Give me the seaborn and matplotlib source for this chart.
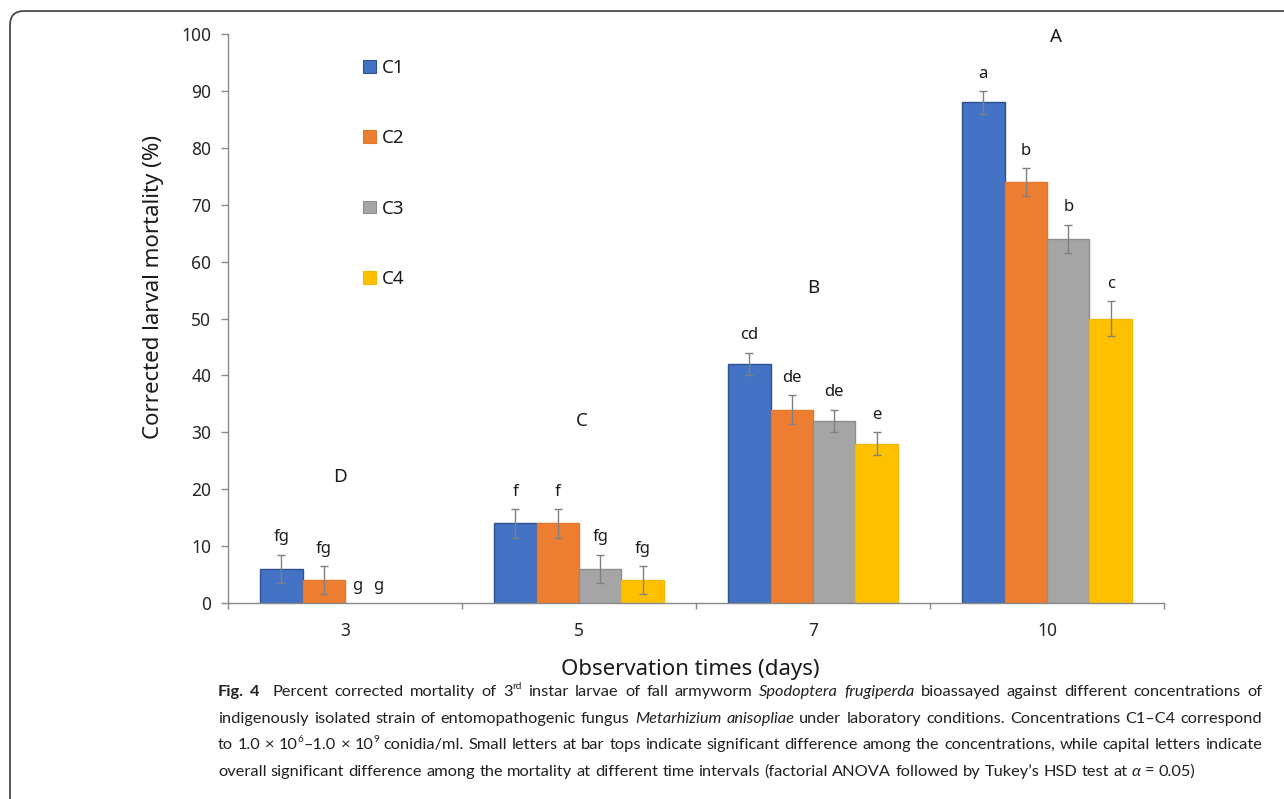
import re
import numpy as np
import pandas as pd
import seaborn as sns
import matplotlib
matplotlib.use("Agg")
import matplotlib.pyplot as plt
from matplotlib.patches import FancyBboxPatch, Patch
from matplotlib.transforms import Affine2D
from matplotlib.font_manager import findfont, FontProperties

# ---- data -------------------------------------------------------------
days = ["3", "5", "7", "10"]
concentrations = ["C1", "C2", "C3", "C4"]

c1 = [6, 14, 42, 88]
c2 = [4, 14, 34, 74]
c3 = [0, 6, 32, 64]
c4 = [0, 4, 28, 50]

c1_err = [2.5, 2.5, 2.0, 2.0]
c2_err = [2.5, 2.5, 2.5, 2.5]
c3_err = [0.0, 2.5, 2.0, 2.5]
c4_err = [0.0, 2.5, 2.0, 3.0]

c1_letters = ["fg", "f", "cd", "a"]
c2_letters = ["fg", "f", "de", "b"]
c3_letters = ["g", "fg", "de", "b"]
c4_letters = ["g", "fg", "e", "c"]

day_letters = ["D", "C", "B", "A"]

series = [c1, c2, c3, c4]
errors = [c1_err, c2_err, c3_err, c4_err]
letters = [c1_letters, c2_letters, c3_letters, c4_letters]

colors = ["#4472C4", "#ED7D31", "#A5A5A5", "#FFC000"]
edge_colors = ["#2F528F", "#E3782C", "#8E8E8E", "#F2B800"]

df = pd.DataFrame(
    [(d, c, v) for c, vals in zip(concentrations, series) for d, v in zip(days, vals)],
    columns=["day", "concentration", "mortality"],
)

# ---- style ------------------------------------------------------------
sns.set_theme(style="white")
plt.rcParams["font.family"] = ["Noto Sans", "DejaVu Sans"]
plt.rcParams["text.color"] = "#1a1a1a"

W, H = 1284, 799
fig = plt.figure(figsize=(W / 100, H / 100), dpi=100)
fig.patch.set_facecolor("white")
px = Affine2D().scale(1, -1).translate(0, H)  # pixel coords measured from top-left

ax = fig.add_axes([228 / W, 1 - 603 / H, 936 / W, 569 / H])

sns.barplot(
    data=df, x="day", y="mortality", hue="concentration",
    order=days, hue_order=concentrations, palette=colors,
    saturation=1, width=0.726, gap=0, errorbar=None,
    linewidth=1.0, ax=ax, legend=False,
)
bar_containers = list(ax.containers)

spine_color = "#8a8a8a"
label_nudge = {(0, 2): -6.5, (0, 3): -22.0}

for k, cont in enumerate(bar_containers):
    xs = []
    for p, v in zip(cont.patches, series[k]):
        p.set_edgecolor(edge_colors[k])
        p.set_linewidth(1.0 if v > 0 else 0.0)
        xs.append(p.get_x() + p.get_width() / 2)
    vals = np.array(series[k], dtype=float)
    errs = np.array(errors[k], dtype=float)
    has_err = errs > 0
    ax.errorbar(np.array(xs)[has_err], vals[has_err], yerr=errs[has_err],
                fmt="none", ecolor="#808080", elinewidth=1.0,
                capsize=3.2, capthick=1.0, zorder=4)
    for j, (x, v, e, t) in enumerate(zip(xs, vals, errs, letters[k])):
        ax.annotate(t, (x, v + e), xytext=(label_nudge.get((j, k), 0), 9.5),
                    textcoords="offset points", ha="center", va="baseline",
                    fontsize=12, color="#1a1a1a")

# overall (time) grouping letters
day_letter_pos = [(-0.02, 22.1), (1.01, 32.0), (2.0, 55.4), (3.04, 99.5)]
for t, (x, y) in zip(day_letters, day_letter_pos):
    ax.text(x, y, t, ha="center", va="center", fontsize=13.5, color="#1a1a1a")

# axes
ax.set_xlim(-0.5, 3.5)
ax.set_ylim(0, 100)
ax.set_yticks(range(0, 101, 10))
ax.set_xticks(range(len(days)))
ax.set_xticklabels(days)
ax.set_xticks([-0.5, 0.5, 1.5, 2.5, 3.5], minor=True)
for s in ("top", "right"):
    ax.spines[s].set_visible(False)
for s in ("left", "bottom"):
    ax.spines[s].set_color(spine_color)
    ax.spines[s].set_linewidth(1.0)
ax.tick_params(axis="y", which="major", length=5, width=1, color=spine_color,
               pad=7, labelsize=12.5, labelcolor="#262626", left=True, direction="out")
ax.tick_params(axis="x", which="major", length=0, pad=14, labelsize=12.5,
               labelcolor="#262626")
ax.tick_params(axis="x", which="minor", length=4, width=1, color=spine_color,
               bottom=True, direction="out")

ax.set_xlabel("Observation times (days)", fontsize=16, color="#1a1a1a")
ax.set_ylabel("Corrected larval mortality (%)", fontsize=16, color="#1a1a1a")
ax.xaxis.label.set_va("center")
ax.yaxis.label.set_va("center")
ax.xaxis.set_label_coords((690 - 228) / 936, (603 - 669) / 569)
ax.yaxis.set_label_coords((154 - 228) / 936, (603 - 287) / 569)

handles = [Patch(facecolor=fc, edgecolor=ec, linewidth=0.8)
           for fc, ec in zip(colors, edge_colors)]
ax.legend(handles, concentrations, loc="upper left",
          bbox_to_anchor=((363 - 228) / 936, (603 - 59) / 569),
          frameon=False, fontsize=13.5, handlelength=0.68, handleheight=0.68,
          handletextpad=0.32, labelspacing=2.79, borderpad=0, borderaxespad=0)

# ---- rounded frame -----------------------------------------------------
frame = FancyBboxPatch((10, 11), 1330, 840,
                       boxstyle="round,pad=0,rounding_size=14",
                       transform=px, facecolor="none", edgecolor="#4a4a4a",
                       linewidth=1.3, zorder=10)
fig.add_artist(frame)

# ---- caption -------------------------------------------------------------
caption_lines = [
    [("Fig. 4", "bold"), ("  Percent corrected mortality of 3", "normal"), ("rd", "sup"),
     (" instar larvae of fall armyworm ", "normal"), ("Spodoptera frugiperda", "italic"),
     (" bioassayed against different concentrations of", "normal")],
    [("indigenously isolated strain of entomopathogenic fungus ", "normal"),
     ("Metarhizium anisopliae", "italic"),
     (" under laboratory conditions. Concentrations C1–C4 correspond", "normal")],
    [("to 1.0 × 10", "normal"), ("6", "sup"), ("–1.0 × 10", "normal"), ("9", "sup"),
     (" conidia/ml. Small letters at bar tops indicate significant difference among the "
      "concentrations, while capital letters indicate", "normal")],
    [("overall significant difference among the mortality at different time intervals "
      "(factorial ANOVA followed by Tukey’s HSD test at ", "normal"), ("α", "italic"),
     (" = 0.05)", "normal")],
]


def have_font(name):
    try:
        findfont(FontProperties(family=name), fallback_to_default=False)
        return True
    except Exception:
        return False


cap_family = ["Liberation Sans Narrow", "DejaVu Sans"] if have_font("Liberation Sans Narrow") \
    else ["Lato", "DejaVu Sans"]
cap_color = "#231f20"
cap_x0, cap_x1 = 218, 1262
cap_baselines = [696, 723, 749, 776]
renderer = fig.canvas.get_renderer()


def text_props(style, size):
    d = dict(family=cap_family, color=cap_color, fontsize=size)
    if style == "bold":
        d["fontweight"] = "bold"
    elif style == "italic":
        d["fontstyle"] = "italic"
    elif style == "sup":
        d["fontsize"] = size * 0.62
    return d


def tokenize(line):
    toks = []
    for text, style in line:
        for part in re.split(r"( +)", text):
            if not part:
                continue
            if part.strip() == "":
                toks.append((None, len(part)))
            else:
                toks.append((part, style))
    return toks


def measure(text, style, size):
    t = fig.text(0, 0, text, **text_props(style, size))
    w = t.get_window_extent(renderer).width
    t.remove()
    return w


def natural_width(toks, size):
    sp = measure("a a", "normal", size) - measure("aa", "normal", size)
    total = 0.0
    for a, b in toks:
        total += sp * b if a is None else measure(a, b, size)
    return total


token_lines = [tokenize(l) for l in caption_lines]
base = 12.0
widest = max(natural_width(t, base) for t in token_lines[:3])
cap_size = min(base * (cap_x1 - cap_x0) / widest * 0.985, 14.0)

space_w = measure("a a", "normal", cap_size) - measure("aa", "normal", cap_size)
for li, (toks, yb) in enumerate(zip(token_lines, cap_baselines)):
    widths = [None if a is None else measure(a, b, cap_size) for a, b in toks]
    n_sp = sum(b for (a, b) in toks if a is None)
    ink = sum(w for w in widths if w is not None)
    if li < 3 and n_sp:
        sp = (cap_x1 - cap_x0 - ink) / n_sp
    else:
        sp = space_w
    x = cap_x0
    for (a, b), w in zip(toks, widths):
        if a is None:
            x += sp * b
            continue
        dy = cap_size * 0.42 * 100 / 72 if b == "sup" else 0
        fig.text(x, yb - dy, a, transform=px, ha="left", va="baseline",
                 **text_props(b, cap_size))
        x += w

fig.savefig("out.png", dpi=100, facecolor="white")
